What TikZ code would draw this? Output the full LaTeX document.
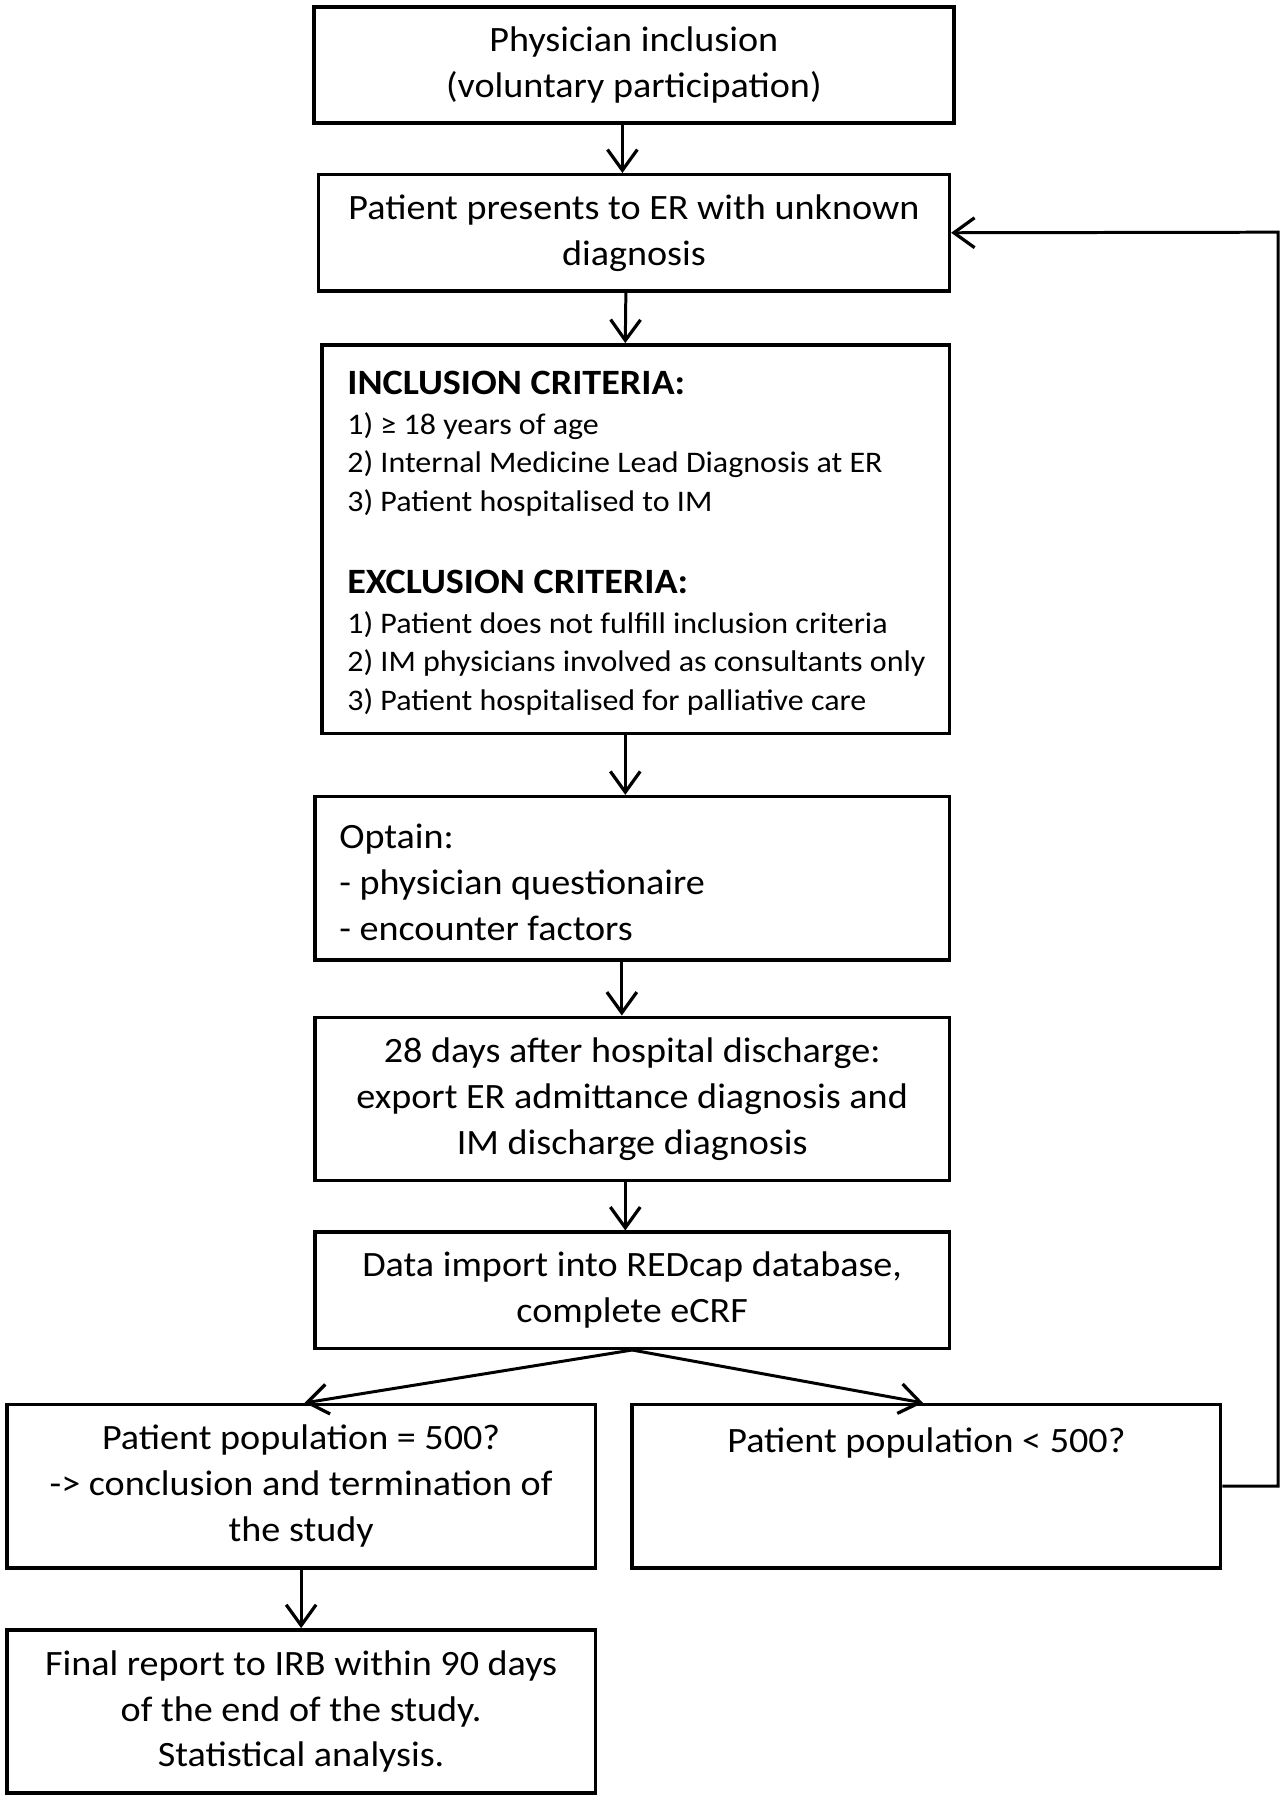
\documentclass[tikz,border=0pt]{standalone}
\usepackage{fontspec}
\setmainfont[FakeStretch=1.07]{Carlito}
\usetikzlibrary{arrows.meta}
\begin{document}
\begin{tikzpicture}[x=1pt,y=-1pt,
  box/.style={draw,line width=3pt,rectangle,inner sep=0pt,font=\fontsize{31}{40}\selectfont},
  arr/.style={line width=2.6pt,-{Straight Barb[length=18pt,width=26pt,line width=2.8pt]}},
  crit/.style={anchor=base west,inner sep=0pt,font=\fontsize{26}{30}\selectfont},
  crith/.style={anchor=base west,inner sep=0pt,font=\fontsize{31}{34}\selectfont\bfseries}]
\useasboundingbox[fill=white] (0,0) rectangle (1118,1566);
\node[box,minimum width=557pt,minimum height=101pt,align=center] (b1) at (551.5,56.5) {Physician inclusion\\(voluntary participation)};
\node[box,minimum width=549pt,minimum height=101pt,align=center] (b2) at (551.5,202.5) {Patient presents to ER with unknown\\diagnosis};
\node[box,minimum width=546pt,minimum height=338pt] (b3) at (553,469) {};
\node[crith] (h1) at (302,343) {INCLUSION CRITERIA:};
\node[crit] (i1) at (302,378) {1) ≥ 18 years of age};
\node[crit] (i2) at (302,411.5) {2) Internal Medicine Lead Diagnosis at ER};
\node[crit] (i3) at (302,445) {3) Patient hospitalised to IM};
\node[crith] (h2) at (302,516) {EXCLUSION CRITERIA:};
\node[crit] (e1) at (302,551) {1) Patient does not fulfill inclusion criteria};
\node[crit] (e2) at (302,584.5) {2) IM physicians involved as consultants only};
\node[crit] (e3) at (302,618) {3) Patient hospitalised for palliative care};
\node[box,minimum width=552pt,minimum height=142pt] (b4) at (550,764) {};
\node[anchor=west,inner sep=0pt,align=left,font=\fontsize{31}{40}\selectfont] (t4) at (295,768) {Optain:\\- physician questionaire\\- encounter factors};
\node[box,minimum width=552pt,minimum height=142pt,align=center] (b5) at (550,956) {28 days after hospital discharge:\\export ER admittance diagnosis and\\IM discharge diagnosis};
\node[box,minimum width=552pt,minimum height=101pt,align=center] (b6) at (550,1122.5) {Data import into REDcap database,\\complete eCRF};
\node[box,minimum width=512pt,minimum height=142pt,align=center] (b7) at (262,1293) {Patient population = 500?\\-> conclusion and termination of\\the study};
\node[box,minimum width=512pt,minimum height=142pt,align=center] (b8) at (806,1293) {Patient population < 500?\\\mbox{}\\\mbox{}};
\node[box,minimum width=512pt,minimum height=142pt,align=center] (b9) at (262,1489) {Final report to IRB within 90 days\\of the end of the study.\\Statistical analysis.};
\coordinate (c1) at (1112,1293);
\coordinate (c2) at (1112,202);
\draw[arr] ([xshift=-10pt]b1.south) -- ([xshift=-10pt]b2.north);
\draw[arr] ([xshift=-7pt]b2.south) -- ([xshift=-9pt]b3.north);
\draw[arr] ([xshift=-9pt]b3.south) -- ([xshift=-6pt]b4.north);
\draw[arr] ([xshift=-9pt]b4.south) -- ([xshift=-9pt]b5.north);
\draw[arr] ([xshift=-6pt]b5.south) -- ([xshift=-6pt]b6.north);
\draw[arr] (b6.south) -- ([xshift=3pt]b7.north);
\draw[arr] (b6.south) -- ([xshift=-3pt]b8.north);
\draw[arr] (b7.south) -- (b9.north);
\draw[arr] (b8.east) -- (c1) -- (c2) -- (b2.east);
\end{tikzpicture}
\end{document}
